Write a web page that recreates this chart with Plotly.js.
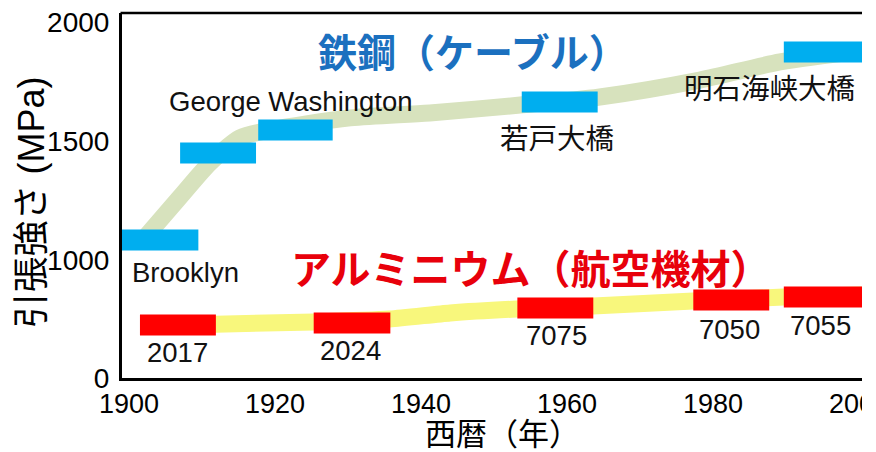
<!DOCTYPE html>
<html>
<head>
<meta charset="utf-8">
<script src="https://cdn.plot.ly/plotly-3.0.1.min.js"></script>
<style>html,body{margin:0;padding:0;background:#fff;}#chart{width:876px;height:452px;}</style>
</head>
<body>
<div id="chart"></div>
<script>
// ---- Data ----
// Steel cable bars (upper axis, MPa)
const steelNames = ["Brooklyn", "", "George Washington", "若戸大橋", "明石海峡大橋"];
const steelStart = [1899.0, 1907.0, 1917.7, 1953.8, 1989.7];
const steelEnd   = [1909.5, 1917.4, 1927.9, 1964.2, 2001.0];
const steelValue = [1084, 1450, 1546, 1664, 1874];

// Aluminium alloy bars (lower axis, MPa)
const aluNames = ["2017", "2024", "7075", "7050", "7055"];
const aluStart = [1901.5, 1925.3, 1953.2, 1977.3, 1989.7];
const aluEnd   = [1911.9, 1935.8, 1963.6, 1987.7, 2001.0];
const aluValue = [449, 466, 593, 661, 686];

// Trend bands
const steelTrendYear  = [1901.5, 1907.0, 1911.1, 1915.2, 1919.3, 1930.3, 1941.2, 1953.6, 1964.5, 1978.2, 1989.2, 2000.4];
const steelTrendValue = [1070, 1265, 1408, 1513, 1546, 1597, 1618, 1651, 1685, 1756, 1832, 1878];
const aluTrendYear  = [1905.0, 1925.3, 1935.7, 1944.0, 1953.1, 1963.6, 1977.3, 1989.7, 2000.4];
const aluTrendValue = [445, 475, 500, 551, 585, 610, 653, 686, 703];

// Axis ticks
const upperTicks = [1500, 2000];
const lowerTicks = [0, 1000];
const xTicks = [1900, 1920, 1940, 1960, 1980, 2000];

// ---- Build traces ----
function segments(starts, ends, values) {
  const xs = [], ys = [];
  for (let i = 0; i < starts.length; i++) {
    xs.push(starts[i], ends[i], null);
    ys.push(values[i], values[i], null);
  }
  return {xs, ys};
}
const steelSeg = segments(steelStart, steelEnd, steelValue);
const aluSeg = segments(aluStart, aluEnd, aluValue);

const FONT = "Liberation Sans, Arial, Noto Sans CJK JP, sans-serif";
const CJK = "Noto Sans CJK JP, sans-serif";

const traces = [
  {x: steelTrendYear, y: steelTrendValue, xaxis: 'x', yaxis: 'y', mode: 'lines',
   line: {color: '#d7e2bd', width: 17, shape: 'spline', smoothing: 0.8}, hoverinfo: 'skip'},
  {x: aluTrendYear, y: aluTrendValue, xaxis: 'x', yaxis: 'y2', mode: 'lines',
   line: {color: '#f8f77c', width: 17, shape: 'spline', smoothing: 0.6}, hoverinfo: 'skip'},
  {x: steelSeg.xs, y: steelSeg.ys, xaxis: 'x', yaxis: 'y', mode: 'lines',
   line: {color: '#00aeef', width: 21}, hoverinfo: 'skip'},
  {x: aluSeg.xs, y: aluSeg.ys, xaxis: 'x', yaxis: 'y2', mode: 'lines',
   line: {color: '#ff0000', width: 21}, hoverinfo: 'skip'}
];

// ---- Annotations (labels) ----
const labelColor = '#111';
const LAT = 27.5, JP = 28.5;
const ann = [
  {x: 1947.1, y: 1882, xref: 'x', yref: 'y', text: '<b>鉄鋼（ケーブル）</b>',
   font: {family: CJK, size: 39, color: '#1b70bf'}},
  {x: 1922.2, y: 1668, xref: 'x', yref: 'y', text: steelNames[2],
   font: {family: FONT, size: LAT, color: labelColor}},
  {x: 1958.6, y: 1517, xref: 'x', yref: 'y', text: steelNames[3],
   font: {family: CJK, size: JP, color: labelColor}},
  {x: 1987.7, y: 1731, xref: 'x', yref: 'y', text: steelNames[4],
   font: {family: CJK, size: JP, color: labelColor}},
  {x: 1907.8, y: 898, xref: 'x', yref: 'y2', text: steelNames[0],
   font: {family: FONT, size: LAT, color: labelColor}},
  {x: 1955.1, y: 941, xref: 'x', yref: 'y2', text: '<b>アルミニウム（航空機材）</b>',
   font: {family: CJK, size: 40, color: '#e8000b'}},
  {x: 1906.7, y: 220, xref: 'x', yref: 'y2', text: aluNames[0],
   font: {family: FONT, size: LAT, color: labelColor}},
  {x: 1930.4, y: 229, xref: 'x', yref: 'y2', text: aluNames[1],
   font: {family: FONT, size: LAT, color: labelColor}},
  {x: 1958.5, y: 364, xref: 'x', yref: 'y2', text: aluNames[2],
   font: {family: FONT, size: LAT, color: labelColor}},
  {x: 1982.2, y: 415, xref: 'x', yref: 'y2', text: aluNames[3],
   font: {family: FONT, size: LAT, color: labelColor}},
  {x: 1994.7, y: 441, xref: 'x', yref: 'y2', text: aluNames[4],
   font: {family: FONT, size: LAT, color: labelColor}},
  {x: -0.122, y: 0.48, xref: 'paper', yref: 'paper', text: '引張強さ (MPa)', textangle: -90,
   font: {family: FONT, size: 36, color: '#000'}},
  {x: 0.514, y: -0.156, xref: 'paper', yref: 'paper', text: '西暦（年）',
   font: {family: FONT, size: 31, color: '#000'}}
].map(a => Object.assign({showarrow: false, xanchor: 'center', yanchor: 'middle'}, a));

const split = 0.3233;
const TICKF = {family: FONT, size: 28, color: '#000'};
const layout = {
  width: 876, height: 452,
  margin: {l: 122, r: 14, t: 13, b: 74},
  paper_bgcolor: '#fff', plot_bgcolor: '#fff',
  showlegend: false,
  hovermode: false,
  font: {family: FONT, color: '#000'},
  xaxis: {
    range: [1899.04, 2000.41], anchor: 'y2',
    tickvals: xTicks, ticktext: xTicks.map(String),
    showgrid: false, zeroline: false,
    showline: true, linecolor: '#000', linewidth: 3,
    ticks: '', ticklabelstandoff: 0, ticklabeloverflow: 'allow',
    tickfont: {family: FONT, size: 27, color: '#000'}
  },
  yaxis: {
    domain: [split, 1], range: [1000, 2037.8], anchor: 'x',
    tickvals: upperTicks, ticktext: upperTicks.map(String),
    showgrid: false, zeroline: false,
    showline: true, linecolor: '#000', linewidth: 3,
    ticks: '', ticklabelstandoff: 4,
    tickfont: TICKF
  },
  yaxis2: {
    domain: [0, split], range: [0, 1000], anchor: 'x',
    tickvals: lowerTicks, ticktext: lowerTicks.map(String),
    showgrid: false, zeroline: false,
    showline: true, linecolor: '#000', linewidth: 3,
    ticks: '', ticklabelstandoff: 4,
    tickfont: TICKF
  },
  shapes: [
    {type: 'line', xref: 'paper', yref: 'paper', x0: -0.002, x1: 1, y0: 1, y1: 1,
     line: {color: '#000', width: 2.5}},
    {type: 'rect', xref: 'paper', yref: 'paper', x0: 1.0, x1: 1.05, y0: -0.3, y1: 1.1,
     fillcolor: '#fff', line: {width: 0}, layer: 'above'}
  ],
  annotations: ann
};

Plotly.newPlot('chart', traces, layout, {staticPlot: true, displayModeBar: false});
</script>
</body>
</html>
